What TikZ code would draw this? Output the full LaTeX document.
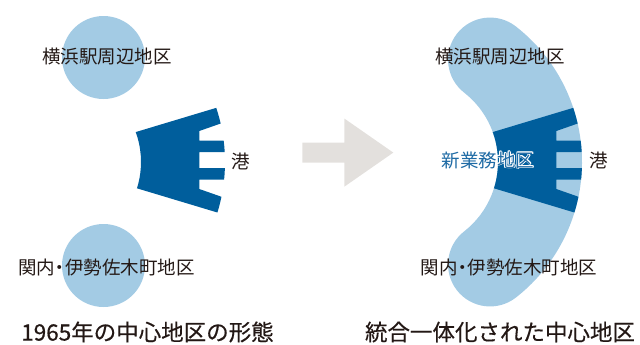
\documentclass[tikz,border=0pt]{standalone}
\usepackage{fontspec}
\newfontfamily\cjk{Noto Sans CJK JP}
\newfontfamily\cjkt[FakeBold=0.4]{Noto Sans CJK JP}
\definecolor{lightb}{HTML}{A3CBE4}
\definecolor{darkb}{HTML}{005E9C}
\definecolor{arrowg}{HTML}{E3E0DD}
\definecolor{txt}{HTML}{231815}
\definecolor{txtb}{HTML}{1F6BA5}
\newcommand\hcopy[3]{\rlap{\kern#1\raisebox{#2}{\color{white}#3}}}
\newcommand\halotext[1]{\hcopy{0.75bp}{0bp}{#1}\hcopy{-0.75bp}{0bp}{#1}%
  \hcopy{0bp}{0.75bp}{#1}\hcopy{0bp}{-0.75bp}{#1}%
  \hcopy{0.55bp}{0.55bp}{#1}\hcopy{-0.55bp}{0.55bp}{#1}%
  \hcopy{0.55bp}{-0.55bp}{#1}\hcopy{-0.55bp}{-0.55bp}{#1}#1}
\tikzset{
  bandpath/.style={insert path={(410,162) ++(-52:172)
      arc[start angle=-52,end angle=52,radius=172]
      arc[start angle=52,end angle=232,radius=42]
      arc[start angle=52,end angle=-52,radius=88]
      arc[start angle=128,end angle=308,radius=42] -- cycle}},
  darkpath/.style={insert path={(470,138.9) -- (600,99.8) -- (600,115.7) -- (556.3,131)
      -- (556.3,140.5) -- (600,140.5) -- (600,152) -- (556.3,152) -- (556.3,168)
      -- (600,168) -- (600,179.5) -- (556.3,179.5) -- (556.3,189) -- (600,204.3)
      -- (600,220.2) -- (470,181.1) -- cycle}},
  lbl/.style={inner sep=0pt, text=txt, font=\cjk\fontsize{18.5bp}{20bp}\selectfont},
  ttl/.style={inner sep=0pt, text=txt, font=\cjkt\fontsize{22.5bp}{24bp}\selectfont},
  district/.style={fill=lightb},
}
\begin{document}
\begin{tikzpicture}[x=1bp,y=-1bp]
\useasboundingbox (0,0) rectangle (640,344);
% left: 1965
\fill[district] (103.5,57.5) circle[radius=41.5];
\fill[district] (103.5,265.5) circle[radius=41.5];
\begin{scope}[xshift=-357bp]
  \clip[bandpath];
  \fill[darkb, darkpath];
\end{scope}
% arrow
\fill[arrowg] (302.3,142.7) -- (344.3,142.7) -- (344.3,118.5) -- (393.3,152.6)
  -- (344.3,186.7) -- (344.3,162.5) -- (302.3,162.5) -- cycle;
% right: integrated
\fill[district, bandpath];
\begin{scope}
  \clip[bandpath];
  \fill[darkb, darkpath];
\end{scope}
% labels
\node[lbl] (yl) at (107,57) {横浜駅周辺地区};
\node[lbl] (kl) at (106.5,267) {関内\kern-.22em・\kern-.22em伊勢佐木町地区};
\node[lbl] (pl) at (241,161.5) {港};
\node[ttl] (tl) at (147.5,332) {1965年の中心地区の形態};
\node[lbl] (yr) at (500,57) {横浜駅周辺地区};
\node[lbl, text=txtb] (nr) at (488,160) {\halotext{新業務地区}};
\node[lbl] (pr) at (599,160) {港};
\node[lbl] (kr) at (509,267) {関内\kern-.22em・\kern-.22em伊勢佐木町地区};
\node[ttl] (tr) at (500,332) {統合一体化された中心地区};
\end{tikzpicture}
\end{document}
